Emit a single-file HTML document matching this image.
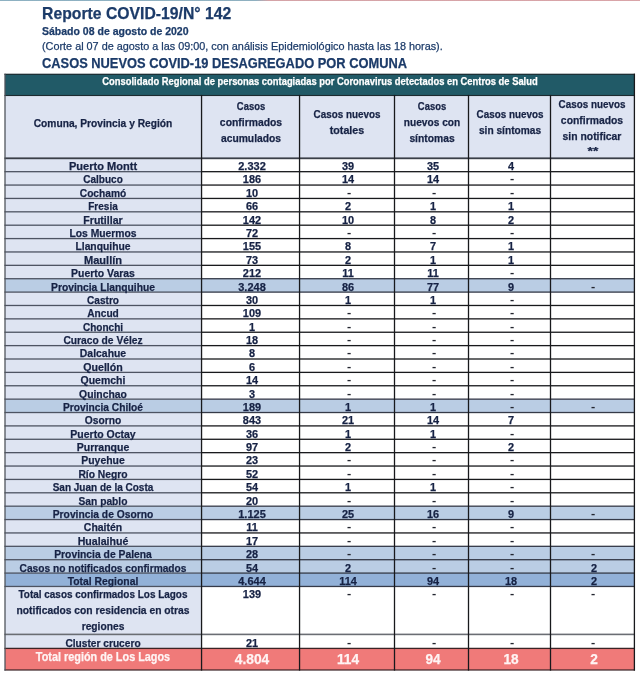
<!DOCTYPE html>
<html><head><meta charset="utf-8"><style>
html,body{margin:0;padding:0;background:#fff;}
body{width:640px;height:675px;position:relative;overflow:hidden;font-family:"Liberation Sans",Arial,sans-serif;}
.r{position:absolute;}
.g{position:absolute;left:0;top:0;}
.t{position:absolute;white-space:nowrap;line-height:20px;-webkit-text-stroke:0.25px currentColor;}
.d{-webkit-text-stroke:0;}
</style></head><body>
<svg class="g" width="640" height="675" viewBox="0 0 640 675"><defs><linearGradient id="tg" x1="0" x2="1" y1="0" y2="0"><stop offset="0" stop-color="#8db1c2"/><stop offset="0.40" stop-color="#8fb0c0"/><stop offset="0.42" stop-color="#d4a3a7"/><stop offset="1" stop-color="#d9a4a8"/></linearGradient></defs><rect x="0.00" y="0.00" width="640.00" height="1.00" fill="url(#tg)"/><rect x="5.00" y="74.30" width="629.40" height="21.20" fill="#215a67"/><rect x="5.00" y="95.50" width="629.40" height="62.80" fill="#dee4f2"/><rect x="5.00" y="158.30" width="196.55" height="13.38" fill="#dee4f2"/><rect x="5.00" y="171.68" width="196.55" height="13.38" fill="#dee4f2"/><rect x="5.00" y="185.06" width="196.55" height="13.38" fill="#dee4f2"/><rect x="5.00" y="198.44" width="196.55" height="13.38" fill="#dee4f2"/><rect x="5.00" y="211.82" width="196.55" height="13.38" fill="#dee4f2"/><rect x="5.00" y="225.20" width="196.55" height="13.38" fill="#dee4f2"/><rect x="5.00" y="238.58" width="196.55" height="13.38" fill="#dee4f2"/><rect x="5.00" y="251.96" width="196.55" height="13.38" fill="#dee4f2"/><rect x="5.00" y="265.34" width="196.55" height="13.38" fill="#dee4f2"/><rect x="5.00" y="278.72" width="629.40" height="13.38" fill="#bacde4"/><rect x="5.00" y="292.10" width="196.55" height="13.38" fill="#dee4f2"/><rect x="5.00" y="305.48" width="196.55" height="13.38" fill="#dee4f2"/><rect x="5.00" y="318.86" width="196.55" height="13.38" fill="#dee4f2"/><rect x="5.00" y="332.24" width="196.55" height="13.38" fill="#dee4f2"/><rect x="5.00" y="345.62" width="196.55" height="13.38" fill="#dee4f2"/><rect x="5.00" y="359.00" width="196.55" height="13.38" fill="#dee4f2"/><rect x="5.00" y="372.38" width="196.55" height="13.38" fill="#dee4f2"/><rect x="5.00" y="385.76" width="196.55" height="13.38" fill="#dee4f2"/><rect x="5.00" y="399.14" width="629.40" height="13.38" fill="#bacde4"/><rect x="5.00" y="412.52" width="196.55" height="13.38" fill="#dee4f2"/><rect x="5.00" y="425.90" width="196.55" height="13.38" fill="#dee4f2"/><rect x="5.00" y="439.28" width="196.55" height="13.38" fill="#dee4f2"/><rect x="5.00" y="452.66" width="196.55" height="13.38" fill="#dee4f2"/><rect x="5.00" y="466.04" width="196.55" height="13.38" fill="#dee4f2"/><rect x="5.00" y="479.42" width="196.55" height="13.38" fill="#dee4f2"/><rect x="5.00" y="492.80" width="196.55" height="13.38" fill="#dee4f2"/><rect x="5.00" y="506.18" width="629.40" height="13.38" fill="#bacde4"/><rect x="5.00" y="519.56" width="196.55" height="13.38" fill="#dee4f2"/><rect x="5.00" y="532.94" width="196.55" height="13.38" fill="#dee4f2"/><rect x="5.00" y="546.32" width="629.40" height="13.38" fill="#bacde4"/><rect x="5.00" y="559.70" width="629.40" height="13.38" fill="#bacde4"/><rect x="5.00" y="573.08" width="629.40" height="13.38" fill="#92b1d8"/><rect x="5.00" y="586.46" width="196.55" height="61.94" fill="#dee4f2"/><rect x="5.00" y="648.40" width="629.40" height="21.60" fill="#f07a79"/><rect x="4.45" y="73.70" width="630.50" height="1.20" fill="#14262c"/><rect x="4.45" y="94.95" width="630.50" height="1.10" fill="#1c2a30"/><rect x="4.45" y="157.40" width="630.50" height="1.80" fill="#3a3f48"/><rect x="4.45" y="171.03" width="197.10" height="1.30" fill="#4d5362"/><rect x="201.55" y="171.03" width="433.40" height="1.30" fill="#18191c"/><rect x="4.45" y="184.41" width="197.10" height="1.30" fill="#4d5362"/><rect x="201.55" y="184.41" width="433.40" height="1.30" fill="#18191c"/><rect x="4.45" y="197.79" width="197.10" height="1.30" fill="#4d5362"/><rect x="201.55" y="197.79" width="433.40" height="1.30" fill="#18191c"/><rect x="4.45" y="211.17" width="197.10" height="1.30" fill="#4d5362"/><rect x="201.55" y="211.17" width="433.40" height="1.30" fill="#18191c"/><rect x="4.45" y="224.55" width="197.10" height="1.30" fill="#4d5362"/><rect x="201.55" y="224.55" width="433.40" height="1.30" fill="#18191c"/><rect x="4.45" y="237.93" width="197.10" height="1.30" fill="#4d5362"/><rect x="201.55" y="237.93" width="433.40" height="1.30" fill="#18191c"/><rect x="4.45" y="251.31" width="197.10" height="1.30" fill="#4d5362"/><rect x="201.55" y="251.31" width="433.40" height="1.30" fill="#18191c"/><rect x="4.45" y="264.69" width="197.10" height="1.30" fill="#4d5362"/><rect x="201.55" y="264.69" width="433.40" height="1.30" fill="#18191c"/><rect x="4.45" y="278.07" width="197.10" height="1.30" fill="#4d5362"/><rect x="201.55" y="278.07" width="433.40" height="1.30" fill="#353a48"/><rect x="4.45" y="291.45" width="197.10" height="1.30" fill="#4d5362"/><rect x="201.55" y="291.45" width="433.40" height="1.30" fill="#353a48"/><rect x="4.45" y="304.83" width="197.10" height="1.30" fill="#4d5362"/><rect x="201.55" y="304.83" width="433.40" height="1.30" fill="#18191c"/><rect x="4.45" y="318.21" width="197.10" height="1.30" fill="#4d5362"/><rect x="201.55" y="318.21" width="433.40" height="1.30" fill="#18191c"/><rect x="4.45" y="331.59" width="197.10" height="1.30" fill="#4d5362"/><rect x="201.55" y="331.59" width="433.40" height="1.30" fill="#18191c"/><rect x="4.45" y="344.97" width="197.10" height="1.30" fill="#4d5362"/><rect x="201.55" y="344.97" width="433.40" height="1.30" fill="#18191c"/><rect x="4.45" y="358.35" width="197.10" height="1.30" fill="#4d5362"/><rect x="201.55" y="358.35" width="433.40" height="1.30" fill="#18191c"/><rect x="4.45" y="371.73" width="197.10" height="1.30" fill="#4d5362"/><rect x="201.55" y="371.73" width="433.40" height="1.30" fill="#18191c"/><rect x="4.45" y="385.11" width="197.10" height="1.30" fill="#4d5362"/><rect x="201.55" y="385.11" width="433.40" height="1.30" fill="#18191c"/><rect x="4.45" y="398.49" width="197.10" height="1.30" fill="#4d5362"/><rect x="201.55" y="398.49" width="433.40" height="1.30" fill="#353a48"/><rect x="4.45" y="411.87" width="197.10" height="1.30" fill="#4d5362"/><rect x="201.55" y="411.87" width="433.40" height="1.30" fill="#353a48"/><rect x="4.45" y="425.25" width="197.10" height="1.30" fill="#4d5362"/><rect x="201.55" y="425.25" width="433.40" height="1.30" fill="#18191c"/><rect x="4.45" y="438.63" width="197.10" height="1.30" fill="#4d5362"/><rect x="201.55" y="438.63" width="433.40" height="1.30" fill="#18191c"/><rect x="4.45" y="452.01" width="197.10" height="1.30" fill="#4d5362"/><rect x="201.55" y="452.01" width="433.40" height="1.30" fill="#18191c"/><rect x="4.45" y="465.39" width="197.10" height="1.30" fill="#4d5362"/><rect x="201.55" y="465.39" width="433.40" height="1.30" fill="#18191c"/><rect x="4.45" y="478.77" width="197.10" height="1.30" fill="#4d5362"/><rect x="201.55" y="478.77" width="433.40" height="1.30" fill="#18191c"/><rect x="4.45" y="492.15" width="197.10" height="1.30" fill="#4d5362"/><rect x="201.55" y="492.15" width="433.40" height="1.30" fill="#18191c"/><rect x="4.45" y="505.53" width="197.10" height="1.30" fill="#4d5362"/><rect x="201.55" y="505.53" width="433.40" height="1.30" fill="#353a48"/><rect x="4.45" y="518.91" width="197.10" height="1.30" fill="#4d5362"/><rect x="201.55" y="518.91" width="433.40" height="1.30" fill="#353a48"/><rect x="4.45" y="532.29" width="197.10" height="1.30" fill="#4d5362"/><rect x="201.55" y="532.29" width="433.40" height="1.30" fill="#18191c"/><rect x="4.45" y="545.67" width="197.10" height="1.30" fill="#4d5362"/><rect x="201.55" y="545.67" width="433.40" height="1.30" fill="#353a48"/><rect x="4.45" y="559.05" width="197.10" height="1.30" fill="#4d5362"/><rect x="201.55" y="559.05" width="433.40" height="1.30" fill="#353a48"/><rect x="4.45" y="572.43" width="197.10" height="1.30" fill="#4d5362"/><rect x="201.55" y="572.43" width="433.40" height="1.30" fill="#353a48"/><rect x="4.45" y="585.81" width="197.10" height="1.30" fill="#4d5362"/><rect x="201.55" y="585.81" width="433.40" height="1.30" fill="#353a48"/><rect x="4.45" y="633.60" width="630.50" height="1.60" fill="#6a6d73"/><rect x="4.45" y="647.75" width="630.50" height="1.30" fill="#3a2426"/><rect x="4.45" y="669.40" width="630.50" height="1.20" fill="#3a2426"/><rect x="4.35" y="73.70" width="1.30" height="596.90" fill="#50555d"/><rect x="200.90" y="94.90" width="1.30" height="575.70" fill="#18191c"/><rect x="298.90" y="94.90" width="1.30" height="575.70" fill="#18191c"/><rect x="393.85" y="94.90" width="1.30" height="575.70" fill="#18191c"/><rect x="467.85" y="94.90" width="1.30" height="575.70" fill="#18191c"/><rect x="549.85" y="94.90" width="1.30" height="575.70" fill="#18191c"/><rect x="633.75" y="73.70" width="1.30" height="596.90" fill="#18191c"/></svg>
<div class="t" style="left:42.40px;top:3px;font-size:16.37px;font-weight:bold;color:#1c3b69;transform:scaleX(0.9631);transform-origin:left">Reporte COVID-19/N° 142</div>
<div class="t" style="left:42.10px;top:21px;font-size:11.25px;font-weight:bold;color:#1c3b69;transform:scaleX(0.9338);transform-origin:left">Sábado 08 de agosto de 2020</div>
<div class="t" style="left:42.10px;top:36px;font-size:11.25px;font-weight:normal;color:#1c3b69;transform:scaleX(0.9636);transform-origin:left">(Corte al 07 de agosto a las 09:00, con análisis Epidemiológico hasta las 18 horas).</div>
<div class="t" style="left:41.60px;top:53px;font-size:14.37px;font-weight:bold;color:#1c3b69;transform:scaleX(0.8953);transform-origin:left">CASOS NUEVOS COVID-19 DESAGREGADO POR COMUNA</div>
<div class="t" style="left:319.50px;top:72px;font-size:10.23px;font-weight:bold;color:#ffffff;transform:translateX(-50%) scaleX(0.9183);transform-origin:center">Consolidado Regional de personas contagiadas por Coronavirus detectados en Centros de Salud</div>
<div class="t" style="left:103.28px;top:113px;font-size:11.16px;font-weight:bold;color:#172345;transform:translateX(-50%) scaleX(0.9165);transform-origin:center">Comuna, Provincia y Región</div>
<div class="t" style="left:250.55px;top:96px;font-size:11.16px;font-weight:bold;color:#172345;transform:translateX(-50%) scaleX(0.8449);transform-origin:center">Casos</div>
<div class="t" style="left:250.55px;top:112px;font-size:11.16px;font-weight:bold;color:#172345;transform:translateX(-50%) scaleX(0.9300);transform-origin:center">confirmados</div>
<div class="t" style="left:250.55px;top:128px;font-size:11.16px;font-weight:bold;color:#172345;transform:translateX(-50%) scaleX(0.9235);transform-origin:center">acumulados</div>
<div class="t" style="left:347.02px;top:104px;font-size:11.16px;font-weight:bold;color:#172345;transform:translateX(-50%) scaleX(0.8835);transform-origin:center">Casos nuevos</div>
<div class="t" style="left:347.02px;top:120px;font-size:11.16px;font-weight:bold;color:#172345;transform:translateX(-50%) scaleX(0.9583);transform-origin:center">totales</div>
<div class="t" style="left:431.50px;top:96px;font-size:11.16px;font-weight:bold;color:#172345;transform:translateX(-50%) scaleX(0.8449);transform-origin:center">Casos</div>
<div class="t" style="left:431.50px;top:112px;font-size:11.16px;font-weight:bold;color:#172345;transform:translateX(-50%) scaleX(0.9105);transform-origin:center">nuevos con</div>
<div class="t" style="left:431.50px;top:128px;font-size:11.16px;font-weight:bold;color:#172345;transform:translateX(-50%) scaleX(0.9237);transform-origin:center">síntomas</div>
<div class="t" style="left:509.50px;top:104px;font-size:11.16px;font-weight:bold;color:#172345;transform:translateX(-50%) scaleX(0.8835);transform-origin:center">Casos nuevos</div>
<div class="t" style="left:509.50px;top:120px;font-size:11.16px;font-weight:bold;color:#172345;transform:translateX(-50%) scaleX(0.9110);transform-origin:center">sin síntomas</div>
<div class="t" style="left:592.45px;top:94px;font-size:11.16px;font-weight:bold;color:#172345;transform:translateX(-50%) scaleX(0.8835);transform-origin:center">Casos nuevos</div>
<div class="t" style="left:592.45px;top:110px;font-size:11.16px;font-weight:bold;color:#172345;transform:translateX(-50%) scaleX(0.9300);transform-origin:center">confirmados</div>
<div class="t" style="left:592.45px;top:126px;font-size:11.16px;font-weight:bold;color:#172345;transform:translateX(-50%) scaleX(0.9303);transform-origin:center">sin notificar</div>
<div class="t" style="left:592.75px;top:141px;font-size:11.16px;font-weight:bold;color:#172345;transform:translateX(-50%) scaleX(1.2385);transform-origin:center">**</div>
<div class="t" style="left:103.28px;top:156px;font-size:11.16px;font-weight:bold;color:#172345;transform:translateX(-50%) scaleX(0.9905);transform-origin:center">Puerto Montt</div>
<div class="t" style="left:251.75px;top:156px;font-size:11.16px;font-weight:bold;color:#172345;transform:translateX(-50%) scaleX(0.9859);transform-origin:center">2.332</div>
<div class="t" style="left:348.22px;top:156px;font-size:11.16px;font-weight:bold;color:#172345;transform:translateX(-50%) scaleX(0.9799);transform-origin:center">39</div>
<div class="t" style="left:432.70px;top:156px;font-size:11.16px;font-weight:bold;color:#172345;transform:translateX(-50%) scaleX(0.9799);transform-origin:center">35</div>
<div class="t" style="left:510.70px;top:156px;font-size:11.16px;font-weight:bold;color:#172345;transform:translateX(-50%) scaleX(0.9799);transform-origin:center">4</div>
<div class="t" style="left:103.28px;top:169px;font-size:11.16px;font-weight:bold;color:#172345;transform:translateX(-50%) scaleX(0.8989);transform-origin:center">Calbuco</div>
<div class="t" style="left:251.75px;top:169px;font-size:11.16px;font-weight:bold;color:#172345;transform:translateX(-50%) scaleX(0.9799);transform-origin:center">186</div>
<div class="t" style="left:348.22px;top:169px;font-size:11.16px;font-weight:bold;color:#172345;transform:translateX(-50%) scaleX(0.9799);transform-origin:center">14</div>
<div class="t" style="left:432.70px;top:169px;font-size:11.16px;font-weight:bold;color:#172345;transform:translateX(-50%) scaleX(0.9799);transform-origin:center">14</div>
<div class="t d" style="left:511.55px;top:168px;font-size:11.16px;font-weight:bold;color:#23252f;transform:translateX(-50%) scaleX(1.1368);transform-origin:center">-</div>
<div class="t" style="left:103.28px;top:183px;font-size:11.16px;font-weight:bold;color:#172345;transform:translateX(-50%) scaleX(0.9126);transform-origin:center">Cochamó</div>
<div class="t" style="left:251.75px;top:183px;font-size:11.16px;font-weight:bold;color:#172345;transform:translateX(-50%) scaleX(0.9799);transform-origin:center">10</div>
<div class="t d" style="left:349.07px;top:182px;font-size:11.16px;font-weight:bold;color:#23252f;transform:translateX(-50%) scaleX(1.1368);transform-origin:center">-</div>
<div class="t d" style="left:433.55px;top:182px;font-size:11.16px;font-weight:bold;color:#23252f;transform:translateX(-50%) scaleX(1.1368);transform-origin:center">-</div>
<div class="t d" style="left:511.55px;top:182px;font-size:11.16px;font-weight:bold;color:#23252f;transform:translateX(-50%) scaleX(1.1368);transform-origin:center">-</div>
<div class="t" style="left:103.28px;top:196px;font-size:11.16px;font-weight:bold;color:#172345;transform:translateX(-50%) scaleX(0.8964);transform-origin:center">Fresia</div>
<div class="t" style="left:251.75px;top:196px;font-size:11.16px;font-weight:bold;color:#172345;transform:translateX(-50%) scaleX(0.9799);transform-origin:center">66</div>
<div class="t" style="left:348.22px;top:196px;font-size:11.16px;font-weight:bold;color:#172345;transform:translateX(-50%) scaleX(0.9799);transform-origin:center">2</div>
<div class="t" style="left:432.70px;top:196px;font-size:11.16px;font-weight:bold;color:#172345;transform:translateX(-50%) scaleX(0.9799);transform-origin:center">1</div>
<div class="t" style="left:510.70px;top:196px;font-size:11.16px;font-weight:bold;color:#172345;transform:translateX(-50%) scaleX(0.9799);transform-origin:center">1</div>
<div class="t" style="left:103.28px;top:210px;font-size:11.16px;font-weight:bold;color:#172345;transform:translateX(-50%) scaleX(0.9485);transform-origin:center">Frutillar</div>
<div class="t" style="left:251.75px;top:210px;font-size:11.16px;font-weight:bold;color:#172345;transform:translateX(-50%) scaleX(0.9799);transform-origin:center">142</div>
<div class="t" style="left:348.22px;top:210px;font-size:11.16px;font-weight:bold;color:#172345;transform:translateX(-50%) scaleX(0.9799);transform-origin:center">10</div>
<div class="t" style="left:432.70px;top:210px;font-size:11.16px;font-weight:bold;color:#172345;transform:translateX(-50%) scaleX(0.9799);transform-origin:center">8</div>
<div class="t" style="left:510.70px;top:210px;font-size:11.16px;font-weight:bold;color:#172345;transform:translateX(-50%) scaleX(0.9799);transform-origin:center">2</div>
<div class="t" style="left:103.28px;top:223px;font-size:11.16px;font-weight:bold;color:#172345;transform:translateX(-50%) scaleX(0.9271);transform-origin:center">Los Muermos</div>
<div class="t" style="left:251.75px;top:223px;font-size:11.16px;font-weight:bold;color:#172345;transform:translateX(-50%) scaleX(0.9799);transform-origin:center">72</div>
<div class="t d" style="left:349.07px;top:222px;font-size:11.16px;font-weight:bold;color:#23252f;transform:translateX(-50%) scaleX(1.1368);transform-origin:center">-</div>
<div class="t d" style="left:433.55px;top:222px;font-size:11.16px;font-weight:bold;color:#23252f;transform:translateX(-50%) scaleX(1.1368);transform-origin:center">-</div>
<div class="t d" style="left:511.55px;top:222px;font-size:11.16px;font-weight:bold;color:#23252f;transform:translateX(-50%) scaleX(1.1368);transform-origin:center">-</div>
<div class="t" style="left:103.28px;top:236px;font-size:11.16px;font-weight:bold;color:#172345;transform:translateX(-50%) scaleX(0.9263);transform-origin:center">Llanquihue</div>
<div class="t" style="left:251.75px;top:236px;font-size:11.16px;font-weight:bold;color:#172345;transform:translateX(-50%) scaleX(0.9799);transform-origin:center">155</div>
<div class="t" style="left:348.22px;top:236px;font-size:11.16px;font-weight:bold;color:#172345;transform:translateX(-50%) scaleX(0.9799);transform-origin:center">8</div>
<div class="t" style="left:432.70px;top:236px;font-size:11.16px;font-weight:bold;color:#172345;transform:translateX(-50%) scaleX(0.9799);transform-origin:center">7</div>
<div class="t" style="left:510.70px;top:236px;font-size:11.16px;font-weight:bold;color:#172345;transform:translateX(-50%) scaleX(0.9799);transform-origin:center">1</div>
<div class="t" style="left:103.28px;top:250px;font-size:11.16px;font-weight:bold;color:#172345;transform:translateX(-50%) scaleX(0.9920);transform-origin:center">Maullín</div>
<div class="t" style="left:251.75px;top:250px;font-size:11.16px;font-weight:bold;color:#172345;transform:translateX(-50%) scaleX(0.9799);transform-origin:center">73</div>
<div class="t" style="left:348.22px;top:250px;font-size:11.16px;font-weight:bold;color:#172345;transform:translateX(-50%) scaleX(0.9799);transform-origin:center">2</div>
<div class="t" style="left:432.70px;top:250px;font-size:11.16px;font-weight:bold;color:#172345;transform:translateX(-50%) scaleX(0.9799);transform-origin:center">1</div>
<div class="t" style="left:510.70px;top:250px;font-size:11.16px;font-weight:bold;color:#172345;transform:translateX(-50%) scaleX(0.9799);transform-origin:center">1</div>
<div class="t" style="left:103.28px;top:263px;font-size:11.16px;font-weight:bold;color:#172345;transform:translateX(-50%) scaleX(0.9361);transform-origin:center">Puerto Varas</div>
<div class="t" style="left:251.75px;top:263px;font-size:11.16px;font-weight:bold;color:#172345;transform:translateX(-50%) scaleX(0.9799);transform-origin:center">212</div>
<div class="t" style="left:348.22px;top:263px;font-size:11.16px;font-weight:bold;color:#172345;transform:translateX(-50%) scaleX(0.9799);transform-origin:center">11</div>
<div class="t" style="left:432.70px;top:263px;font-size:11.16px;font-weight:bold;color:#172345;transform:translateX(-50%) scaleX(0.9799);transform-origin:center">11</div>
<div class="t d" style="left:511.55px;top:262px;font-size:11.16px;font-weight:bold;color:#23252f;transform:translateX(-50%) scaleX(1.1368);transform-origin:center">-</div>
<div class="t" style="left:103.28px;top:277px;font-size:11.16px;font-weight:bold;color:#172345;transform:translateX(-50%) scaleX(0.9207);transform-origin:center">Provincia Llanquihue</div>
<div class="t" style="left:251.75px;top:277px;font-size:11.16px;font-weight:bold;color:#172345;transform:translateX(-50%) scaleX(0.9859);transform-origin:center">3.248</div>
<div class="t" style="left:348.22px;top:277px;font-size:11.16px;font-weight:bold;color:#172345;transform:translateX(-50%) scaleX(0.9799);transform-origin:center">86</div>
<div class="t" style="left:432.70px;top:277px;font-size:11.16px;font-weight:bold;color:#172345;transform:translateX(-50%) scaleX(0.9799);transform-origin:center">77</div>
<div class="t" style="left:510.70px;top:277px;font-size:11.16px;font-weight:bold;color:#172345;transform:translateX(-50%) scaleX(0.9799);transform-origin:center">9</div>
<div class="t d" style="left:593.05px;top:276px;font-size:11.16px;font-weight:bold;color:#23252f;transform:translateX(-50%) scaleX(1.1368);transform-origin:center">-</div>
<div class="t" style="left:103.28px;top:290px;font-size:11.16px;font-weight:bold;color:#172345;transform:translateX(-50%) scaleX(0.9035);transform-origin:center">Castro</div>
<div class="t" style="left:251.75px;top:290px;font-size:11.16px;font-weight:bold;color:#172345;transform:translateX(-50%) scaleX(0.9799);transform-origin:center">30</div>
<div class="t" style="left:348.22px;top:290px;font-size:11.16px;font-weight:bold;color:#172345;transform:translateX(-50%) scaleX(0.9799);transform-origin:center">1</div>
<div class="t" style="left:432.70px;top:290px;font-size:11.16px;font-weight:bold;color:#172345;transform:translateX(-50%) scaleX(0.9799);transform-origin:center">1</div>
<div class="t d" style="left:511.55px;top:289px;font-size:11.16px;font-weight:bold;color:#23252f;transform:translateX(-50%) scaleX(1.1368);transform-origin:center">-</div>
<div class="t" style="left:103.28px;top:303px;font-size:11.16px;font-weight:bold;color:#172345;transform:translateX(-50%) scaleX(0.9105);transform-origin:center">Ancud</div>
<div class="t" style="left:251.75px;top:303px;font-size:11.16px;font-weight:bold;color:#172345;transform:translateX(-50%) scaleX(0.9799);transform-origin:center">109</div>
<div class="t d" style="left:349.07px;top:302px;font-size:11.16px;font-weight:bold;color:#23252f;transform:translateX(-50%) scaleX(1.1368);transform-origin:center">-</div>
<div class="t d" style="left:433.55px;top:302px;font-size:11.16px;font-weight:bold;color:#23252f;transform:translateX(-50%) scaleX(1.1368);transform-origin:center">-</div>
<div class="t d" style="left:511.55px;top:302px;font-size:11.16px;font-weight:bold;color:#23252f;transform:translateX(-50%) scaleX(1.1368);transform-origin:center">-</div>
<div class="t" style="left:103.28px;top:317px;font-size:11.16px;font-weight:bold;color:#172345;transform:translateX(-50%) scaleX(0.8982);transform-origin:center">Chonchi</div>
<div class="t" style="left:251.75px;top:317px;font-size:11.16px;font-weight:bold;color:#172345;transform:translateX(-50%) scaleX(0.9799);transform-origin:center">1</div>
<div class="t d" style="left:349.07px;top:316px;font-size:11.16px;font-weight:bold;color:#23252f;transform:translateX(-50%) scaleX(1.1368);transform-origin:center">-</div>
<div class="t d" style="left:433.55px;top:316px;font-size:11.16px;font-weight:bold;color:#23252f;transform:translateX(-50%) scaleX(1.1368);transform-origin:center">-</div>
<div class="t d" style="left:511.55px;top:316px;font-size:11.16px;font-weight:bold;color:#23252f;transform:translateX(-50%) scaleX(1.1368);transform-origin:center">-</div>
<div class="t" style="left:103.28px;top:330px;font-size:11.16px;font-weight:bold;color:#172345;transform:translateX(-50%) scaleX(0.9193);transform-origin:center">Curaco de Vélez</div>
<div class="t" style="left:251.75px;top:330px;font-size:11.16px;font-weight:bold;color:#172345;transform:translateX(-50%) scaleX(0.9799);transform-origin:center">18</div>
<div class="t d" style="left:349.07px;top:329px;font-size:11.16px;font-weight:bold;color:#23252f;transform:translateX(-50%) scaleX(1.1368);transform-origin:center">-</div>
<div class="t d" style="left:433.55px;top:329px;font-size:11.16px;font-weight:bold;color:#23252f;transform:translateX(-50%) scaleX(1.1368);transform-origin:center">-</div>
<div class="t d" style="left:511.55px;top:329px;font-size:11.16px;font-weight:bold;color:#23252f;transform:translateX(-50%) scaleX(1.1368);transform-origin:center">-</div>
<div class="t" style="left:103.28px;top:343px;font-size:11.16px;font-weight:bold;color:#172345;transform:translateX(-50%) scaleX(0.9331);transform-origin:center">Dalcahue</div>
<div class="t" style="left:251.75px;top:343px;font-size:11.16px;font-weight:bold;color:#172345;transform:translateX(-50%) scaleX(0.9799);transform-origin:center">8</div>
<div class="t d" style="left:349.07px;top:342px;font-size:11.16px;font-weight:bold;color:#23252f;transform:translateX(-50%) scaleX(1.1368);transform-origin:center">-</div>
<div class="t d" style="left:433.55px;top:342px;font-size:11.16px;font-weight:bold;color:#23252f;transform:translateX(-50%) scaleX(1.1368);transform-origin:center">-</div>
<div class="t d" style="left:511.55px;top:342px;font-size:11.16px;font-weight:bold;color:#23252f;transform:translateX(-50%) scaleX(1.1368);transform-origin:center">-</div>
<div class="t" style="left:103.28px;top:357px;font-size:11.16px;font-weight:bold;color:#172345;transform:translateX(-50%) scaleX(0.9509);transform-origin:center">Quellón</div>
<div class="t" style="left:251.75px;top:357px;font-size:11.16px;font-weight:bold;color:#172345;transform:translateX(-50%) scaleX(0.9799);transform-origin:center">6</div>
<div class="t d" style="left:349.07px;top:356px;font-size:11.16px;font-weight:bold;color:#23252f;transform:translateX(-50%) scaleX(1.1368);transform-origin:center">-</div>
<div class="t d" style="left:433.55px;top:356px;font-size:11.16px;font-weight:bold;color:#23252f;transform:translateX(-50%) scaleX(1.1368);transform-origin:center">-</div>
<div class="t d" style="left:511.55px;top:356px;font-size:11.16px;font-weight:bold;color:#23252f;transform:translateX(-50%) scaleX(1.1368);transform-origin:center">-</div>
<div class="t" style="left:103.28px;top:370px;font-size:11.16px;font-weight:bold;color:#172345;transform:translateX(-50%) scaleX(0.9399);transform-origin:center">Quemchi</div>
<div class="t" style="left:251.75px;top:370px;font-size:11.16px;font-weight:bold;color:#172345;transform:translateX(-50%) scaleX(0.9799);transform-origin:center">14</div>
<div class="t d" style="left:349.07px;top:369px;font-size:11.16px;font-weight:bold;color:#23252f;transform:translateX(-50%) scaleX(1.1368);transform-origin:center">-</div>
<div class="t d" style="left:433.55px;top:369px;font-size:11.16px;font-weight:bold;color:#23252f;transform:translateX(-50%) scaleX(1.1368);transform-origin:center">-</div>
<div class="t d" style="left:511.55px;top:369px;font-size:11.16px;font-weight:bold;color:#23252f;transform:translateX(-50%) scaleX(1.1368);transform-origin:center">-</div>
<div class="t" style="left:103.28px;top:384px;font-size:11.16px;font-weight:bold;color:#172345;transform:translateX(-50%) scaleX(0.9307);transform-origin:center">Quinchao</div>
<div class="t" style="left:251.75px;top:384px;font-size:11.16px;font-weight:bold;color:#172345;transform:translateX(-50%) scaleX(0.9799);transform-origin:center">3</div>
<div class="t d" style="left:349.07px;top:383px;font-size:11.16px;font-weight:bold;color:#23252f;transform:translateX(-50%) scaleX(1.1368);transform-origin:center">-</div>
<div class="t d" style="left:433.55px;top:383px;font-size:11.16px;font-weight:bold;color:#23252f;transform:translateX(-50%) scaleX(1.1368);transform-origin:center">-</div>
<div class="t d" style="left:511.55px;top:383px;font-size:11.16px;font-weight:bold;color:#23252f;transform:translateX(-50%) scaleX(1.1368);transform-origin:center">-</div>
<div class="t" style="left:103.28px;top:397px;font-size:11.16px;font-weight:bold;color:#172345;transform:translateX(-50%) scaleX(0.9143);transform-origin:center">Provincia Chiloé</div>
<div class="t" style="left:251.75px;top:397px;font-size:11.16px;font-weight:bold;color:#172345;transform:translateX(-50%) scaleX(0.9799);transform-origin:center">189</div>
<div class="t" style="left:348.22px;top:397px;font-size:11.16px;font-weight:bold;color:#172345;transform:translateX(-50%) scaleX(0.9799);transform-origin:center">1</div>
<div class="t" style="left:432.70px;top:397px;font-size:11.16px;font-weight:bold;color:#172345;transform:translateX(-50%) scaleX(0.9799);transform-origin:center">1</div>
<div class="t d" style="left:511.55px;top:396px;font-size:11.16px;font-weight:bold;color:#23252f;transform:translateX(-50%) scaleX(1.1368);transform-origin:center">-</div>
<div class="t d" style="left:593.05px;top:396px;font-size:11.16px;font-weight:bold;color:#23252f;transform:translateX(-50%) scaleX(1.1368);transform-origin:center">-</div>
<div class="t" style="left:103.28px;top:410px;font-size:11.16px;font-weight:bold;color:#172345;transform:translateX(-50%) scaleX(0.9201);transform-origin:center">Osorno</div>
<div class="t" style="left:251.75px;top:410px;font-size:11.16px;font-weight:bold;color:#172345;transform:translateX(-50%) scaleX(0.9799);transform-origin:center">843</div>
<div class="t" style="left:348.22px;top:410px;font-size:11.16px;font-weight:bold;color:#172345;transform:translateX(-50%) scaleX(0.9799);transform-origin:center">21</div>
<div class="t" style="left:432.70px;top:410px;font-size:11.16px;font-weight:bold;color:#172345;transform:translateX(-50%) scaleX(0.9799);transform-origin:center">14</div>
<div class="t" style="left:510.70px;top:410px;font-size:11.16px;font-weight:bold;color:#172345;transform:translateX(-50%) scaleX(0.9799);transform-origin:center">7</div>
<div class="t" style="left:103.28px;top:424px;font-size:11.16px;font-weight:bold;color:#172345;transform:translateX(-50%) scaleX(0.9410);transform-origin:center">Puerto Octay</div>
<div class="t" style="left:251.75px;top:424px;font-size:11.16px;font-weight:bold;color:#172345;transform:translateX(-50%) scaleX(0.9799);transform-origin:center">36</div>
<div class="t" style="left:348.22px;top:424px;font-size:11.16px;font-weight:bold;color:#172345;transform:translateX(-50%) scaleX(0.9799);transform-origin:center">1</div>
<div class="t" style="left:432.70px;top:424px;font-size:11.16px;font-weight:bold;color:#172345;transform:translateX(-50%) scaleX(0.9799);transform-origin:center">1</div>
<div class="t d" style="left:511.55px;top:423px;font-size:11.16px;font-weight:bold;color:#23252f;transform:translateX(-50%) scaleX(1.1368);transform-origin:center">-</div>
<div class="t" style="left:103.28px;top:437px;font-size:11.16px;font-weight:bold;color:#172345;transform:translateX(-50%) scaleX(0.9432);transform-origin:center">Purranque</div>
<div class="t" style="left:251.75px;top:437px;font-size:11.16px;font-weight:bold;color:#172345;transform:translateX(-50%) scaleX(0.9799);transform-origin:center">97</div>
<div class="t" style="left:348.22px;top:437px;font-size:11.16px;font-weight:bold;color:#172345;transform:translateX(-50%) scaleX(0.9799);transform-origin:center">2</div>
<div class="t d" style="left:433.55px;top:436px;font-size:11.16px;font-weight:bold;color:#23252f;transform:translateX(-50%) scaleX(1.1368);transform-origin:center">-</div>
<div class="t" style="left:510.70px;top:437px;font-size:11.16px;font-weight:bold;color:#172345;transform:translateX(-50%) scaleX(0.9799);transform-origin:center">2</div>
<div class="t" style="left:103.28px;top:450px;font-size:11.16px;font-weight:bold;color:#172345;transform:translateX(-50%) scaleX(0.9346);transform-origin:center">Puyehue</div>
<div class="t" style="left:251.75px;top:450px;font-size:11.16px;font-weight:bold;color:#172345;transform:translateX(-50%) scaleX(0.9799);transform-origin:center">23</div>
<div class="t d" style="left:349.07px;top:449px;font-size:11.16px;font-weight:bold;color:#23252f;transform:translateX(-50%) scaleX(1.1368);transform-origin:center">-</div>
<div class="t d" style="left:433.55px;top:449px;font-size:11.16px;font-weight:bold;color:#23252f;transform:translateX(-50%) scaleX(1.1368);transform-origin:center">-</div>
<div class="t d" style="left:511.55px;top:449px;font-size:11.16px;font-weight:bold;color:#23252f;transform:translateX(-50%) scaleX(1.1368);transform-origin:center">-</div>
<div class="t" style="left:103.28px;top:464px;font-size:11.16px;font-weight:bold;color:#172345;transform:translateX(-50%) scaleX(0.9231);transform-origin:center">Río Negro</div>
<div class="t" style="left:251.75px;top:464px;font-size:11.16px;font-weight:bold;color:#172345;transform:translateX(-50%) scaleX(0.9799);transform-origin:center">52</div>
<div class="t d" style="left:349.07px;top:463px;font-size:11.16px;font-weight:bold;color:#23252f;transform:translateX(-50%) scaleX(1.1368);transform-origin:center">-</div>
<div class="t d" style="left:433.55px;top:463px;font-size:11.16px;font-weight:bold;color:#23252f;transform:translateX(-50%) scaleX(1.1368);transform-origin:center">-</div>
<div class="t d" style="left:511.55px;top:463px;font-size:11.16px;font-weight:bold;color:#23252f;transform:translateX(-50%) scaleX(1.1368);transform-origin:center">-</div>
<div class="t" style="left:103.28px;top:477px;font-size:11.16px;font-weight:bold;color:#172345;transform:translateX(-50%) scaleX(0.8970);transform-origin:center">San Juan de la Costa</div>
<div class="t" style="left:251.75px;top:477px;font-size:11.16px;font-weight:bold;color:#172345;transform:translateX(-50%) scaleX(0.9799);transform-origin:center">54</div>
<div class="t" style="left:348.22px;top:477px;font-size:11.16px;font-weight:bold;color:#172345;transform:translateX(-50%) scaleX(0.9799);transform-origin:center">1</div>
<div class="t" style="left:432.70px;top:477px;font-size:11.16px;font-weight:bold;color:#172345;transform:translateX(-50%) scaleX(0.9799);transform-origin:center">1</div>
<div class="t d" style="left:511.55px;top:476px;font-size:11.16px;font-weight:bold;color:#23252f;transform:translateX(-50%) scaleX(1.1368);transform-origin:center">-</div>
<div class="t" style="left:103.28px;top:491px;font-size:11.16px;font-weight:bold;color:#172345;transform:translateX(-50%) scaleX(0.9179);transform-origin:center">San pablo</div>
<div class="t" style="left:251.75px;top:491px;font-size:11.16px;font-weight:bold;color:#172345;transform:translateX(-50%) scaleX(0.9799);transform-origin:center">20</div>
<div class="t d" style="left:349.07px;top:490px;font-size:11.16px;font-weight:bold;color:#23252f;transform:translateX(-50%) scaleX(1.1368);transform-origin:center">-</div>
<div class="t d" style="left:433.55px;top:490px;font-size:11.16px;font-weight:bold;color:#23252f;transform:translateX(-50%) scaleX(1.1368);transform-origin:center">-</div>
<div class="t d" style="left:511.55px;top:490px;font-size:11.16px;font-weight:bold;color:#23252f;transform:translateX(-50%) scaleX(1.1368);transform-origin:center">-</div>
<div class="t" style="left:103.28px;top:504px;font-size:11.16px;font-weight:bold;color:#172345;transform:translateX(-50%) scaleX(0.9206);transform-origin:center">Provincia de Osorno</div>
<div class="t" style="left:251.75px;top:504px;font-size:11.16px;font-weight:bold;color:#172345;transform:translateX(-50%) scaleX(0.9859);transform-origin:center">1.125</div>
<div class="t" style="left:348.22px;top:504px;font-size:11.16px;font-weight:bold;color:#172345;transform:translateX(-50%) scaleX(0.9799);transform-origin:center">25</div>
<div class="t" style="left:432.70px;top:504px;font-size:11.16px;font-weight:bold;color:#172345;transform:translateX(-50%) scaleX(0.9799);transform-origin:center">16</div>
<div class="t" style="left:510.70px;top:504px;font-size:11.16px;font-weight:bold;color:#172345;transform:translateX(-50%) scaleX(0.9799);transform-origin:center">9</div>
<div class="t d" style="left:593.05px;top:503px;font-size:11.16px;font-weight:bold;color:#23252f;transform:translateX(-50%) scaleX(1.1368);transform-origin:center">-</div>
<div class="t" style="left:103.28px;top:517px;font-size:11.16px;font-weight:bold;color:#172345;transform:translateX(-50%) scaleX(0.9360);transform-origin:center">Chaitén</div>
<div class="t" style="left:251.75px;top:517px;font-size:11.16px;font-weight:bold;color:#172345;transform:translateX(-50%) scaleX(0.9799);transform-origin:center">11</div>
<div class="t d" style="left:349.07px;top:516px;font-size:11.16px;font-weight:bold;color:#23252f;transform:translateX(-50%) scaleX(1.1368);transform-origin:center">-</div>
<div class="t d" style="left:433.55px;top:516px;font-size:11.16px;font-weight:bold;color:#23252f;transform:translateX(-50%) scaleX(1.1368);transform-origin:center">-</div>
<div class="t d" style="left:511.55px;top:516px;font-size:11.16px;font-weight:bold;color:#23252f;transform:translateX(-50%) scaleX(1.1368);transform-origin:center">-</div>
<div class="t" style="left:103.28px;top:531px;font-size:11.16px;font-weight:bold;color:#172345;transform:translateX(-50%) scaleX(0.9501);transform-origin:center">Hualaihué</div>
<div class="t" style="left:251.75px;top:531px;font-size:11.16px;font-weight:bold;color:#172345;transform:translateX(-50%) scaleX(0.9799);transform-origin:center">17</div>
<div class="t d" style="left:349.07px;top:530px;font-size:11.16px;font-weight:bold;color:#23252f;transform:translateX(-50%) scaleX(1.1368);transform-origin:center">-</div>
<div class="t d" style="left:433.55px;top:530px;font-size:11.16px;font-weight:bold;color:#23252f;transform:translateX(-50%) scaleX(1.1368);transform-origin:center">-</div>
<div class="t d" style="left:511.55px;top:530px;font-size:11.16px;font-weight:bold;color:#23252f;transform:translateX(-50%) scaleX(1.1368);transform-origin:center">-</div>
<div class="t" style="left:103.28px;top:544px;font-size:11.16px;font-weight:bold;color:#172345;transform:translateX(-50%) scaleX(0.9259);transform-origin:center">Provincia de Palena</div>
<div class="t" style="left:251.75px;top:544px;font-size:11.16px;font-weight:bold;color:#172345;transform:translateX(-50%) scaleX(0.9799);transform-origin:center">28</div>
<div class="t d" style="left:349.07px;top:543px;font-size:11.16px;font-weight:bold;color:#23252f;transform:translateX(-50%) scaleX(1.1368);transform-origin:center">-</div>
<div class="t d" style="left:433.55px;top:543px;font-size:11.16px;font-weight:bold;color:#23252f;transform:translateX(-50%) scaleX(1.1368);transform-origin:center">-</div>
<div class="t d" style="left:511.55px;top:543px;font-size:11.16px;font-weight:bold;color:#23252f;transform:translateX(-50%) scaleX(1.1368);transform-origin:center">-</div>
<div class="t d" style="left:593.05px;top:543px;font-size:11.16px;font-weight:bold;color:#23252f;transform:translateX(-50%) scaleX(1.1368);transform-origin:center">-</div>
<div class="t" style="left:103.28px;top:558px;font-size:11.16px;font-weight:bold;color:#172345;transform:translateX(-50%) scaleX(0.9128);transform-origin:center">Casos no notificados confirmados</div>
<div class="t" style="left:251.75px;top:558px;font-size:11.16px;font-weight:bold;color:#172345;transform:translateX(-50%) scaleX(0.9799);transform-origin:center">54</div>
<div class="t" style="left:348.22px;top:558px;font-size:11.16px;font-weight:bold;color:#172345;transform:translateX(-50%) scaleX(0.9799);transform-origin:center">2</div>
<div class="t d" style="left:433.55px;top:557px;font-size:11.16px;font-weight:bold;color:#23252f;transform:translateX(-50%) scaleX(1.1368);transform-origin:center">-</div>
<div class="t d" style="left:511.55px;top:557px;font-size:11.16px;font-weight:bold;color:#23252f;transform:translateX(-50%) scaleX(1.1368);transform-origin:center">-</div>
<div class="t" style="left:593.65px;top:558px;font-size:11.16px;font-weight:bold;color:#172345;transform:translateX(-50%) scaleX(0.9799);transform-origin:center">2</div>
<div class="t" style="left:103.28px;top:571px;font-size:11.16px;font-weight:bold;color:#172345;transform:translateX(-50%) scaleX(0.9278);transform-origin:center">Total Regional</div>
<div class="t" style="left:251.75px;top:571px;font-size:11.16px;font-weight:bold;color:#172345;transform:translateX(-50%) scaleX(0.9859);transform-origin:center">4.644</div>
<div class="t" style="left:348.22px;top:571px;font-size:11.16px;font-weight:bold;color:#172345;transform:translateX(-50%) scaleX(0.9799);transform-origin:center">114</div>
<div class="t" style="left:432.70px;top:571px;font-size:11.16px;font-weight:bold;color:#172345;transform:translateX(-50%) scaleX(0.9799);transform-origin:center">94</div>
<div class="t" style="left:510.70px;top:571px;font-size:11.16px;font-weight:bold;color:#172345;transform:translateX(-50%) scaleX(0.9799);transform-origin:center">18</div>
<div class="t" style="left:593.65px;top:571px;font-size:11.16px;font-weight:bold;color:#172345;transform:translateX(-50%) scaleX(0.9799);transform-origin:center">2</div>
<div class="t" style="left:103.28px;top:584px;font-size:11.16px;font-weight:bold;color:#172345;transform:translateX(-50%) scaleX(0.8917);transform-origin:center">Total casos confirmados Los Lagos</div>
<div class="t" style="left:103.28px;top:600px;font-size:11.16px;font-weight:bold;color:#172345;transform:translateX(-50%) scaleX(0.9240);transform-origin:center">notificados con residencia en otras</div>
<div class="t" style="left:103.28px;top:616px;font-size:11.16px;font-weight:bold;color:#172345;transform:translateX(-50%) scaleX(0.9172);transform-origin:center">regiones</div>
<div class="t" style="left:251.75px;top:584px;font-size:11.16px;font-weight:bold;color:#172345;transform:translateX(-50%) scaleX(0.9799);transform-origin:center">139</div>
<div class="t d" style="left:349.07px;top:583px;font-size:11.16px;font-weight:bold;color:#23252f;transform:translateX(-50%) scaleX(1.1368);transform-origin:center">-</div>
<div class="t d" style="left:433.55px;top:583px;font-size:11.16px;font-weight:bold;color:#23252f;transform:translateX(-50%) scaleX(1.1368);transform-origin:center">-</div>
<div class="t d" style="left:511.55px;top:583px;font-size:11.16px;font-weight:bold;color:#23252f;transform:translateX(-50%) scaleX(1.1368);transform-origin:center">-</div>
<div class="t d" style="left:593.05px;top:583px;font-size:11.16px;font-weight:bold;color:#23252f;transform:translateX(-50%) scaleX(1.1368);transform-origin:center">-</div>
<div class="t" style="left:103.28px;top:633px;font-size:11.16px;font-weight:bold;color:#172345;transform:translateX(-50%) scaleX(0.9118);transform-origin:center">Cluster crucero</div>
<div class="t" style="left:251.75px;top:633px;font-size:11.16px;font-weight:bold;color:#172345;transform:translateX(-50%) scaleX(0.9799);transform-origin:center">21</div>
<div class="t d" style="left:349.07px;top:632px;font-size:11.16px;font-weight:bold;color:#23252f;transform:translateX(-50%) scaleX(1.1368);transform-origin:center">-</div>
<div class="t d" style="left:433.55px;top:632px;font-size:11.16px;font-weight:bold;color:#23252f;transform:translateX(-50%) scaleX(1.1368);transform-origin:center">-</div>
<div class="t d" style="left:511.55px;top:632px;font-size:11.16px;font-weight:bold;color:#23252f;transform:translateX(-50%) scaleX(1.1368);transform-origin:center">-</div>
<div class="t d" style="left:593.05px;top:632px;font-size:11.16px;font-weight:bold;color:#23252f;transform:translateX(-50%) scaleX(1.1368);transform-origin:center">-</div>
<div class="t" style="left:103.28px;top:647px;font-size:12.09px;font-weight:bold;color:#fff4f4;transform:translateX(-50%) scaleX(0.8988);transform-origin:center">Total región de Los Lagos</div>
<div class="t" style="left:251.75px;top:649px;font-size:13.95px;font-weight:bold;color:#fff4f4;transform:translateX(-50%) scaleX(0.9859);transform-origin:center">4.804</div>
<div class="t" style="left:348.22px;top:649px;font-size:13.95px;font-weight:bold;color:#fff4f4;transform:translateX(-50%) scaleX(0.9799);transform-origin:center">114</div>
<div class="t" style="left:432.70px;top:649px;font-size:13.95px;font-weight:bold;color:#fff4f4;transform:translateX(-50%) scaleX(0.9799);transform-origin:center">94</div>
<div class="t" style="left:510.70px;top:649px;font-size:13.95px;font-weight:bold;color:#fff4f4;transform:translateX(-50%) scaleX(0.9799);transform-origin:center">18</div>
<div class="t" style="left:593.65px;top:649px;font-size:13.95px;font-weight:bold;color:#fff4f4;transform:translateX(-50%) scaleX(0.9799);transform-origin:center">2</div>
</body></html>
